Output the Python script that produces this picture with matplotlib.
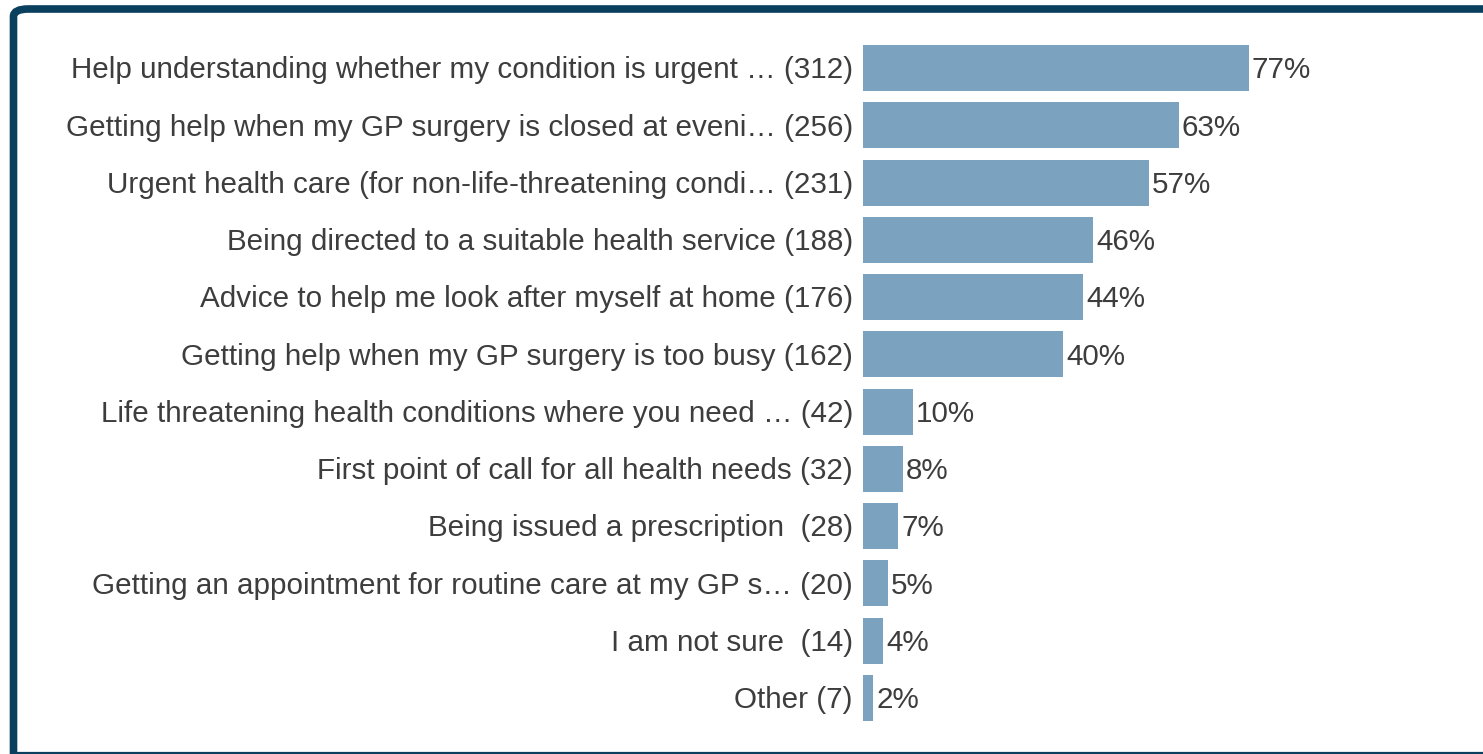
import matplotlib
matplotlib.use("Agg")
import matplotlib.pyplot as plt
from matplotlib.patches import FancyBboxPatch
from matplotlib.lines import Line2D

plt.rcParams['font.family'] = ['Liberation Sans', 'DejaVu Sans']

labels = [
    "Help understanding whether my condition is urgent \u2026 (312)",
    "Getting help when my GP surgery is closed at eveni\u2026 (256)",
    "Urgent health care (for non-life-threatening condi\u2026 (231)",
    "Being directed to a suitable health service (188)",
    "Advice to help me look after myself at home (176)",
    "Getting help when my GP surgery is too busy (162)",
    "Life threatening health conditions where you need \u2026 (42)",
    "First point of call for all health needs (32)",
    "Being issued a prescription  (28)",
    "Getting an appointment for routine care at my GP s\u2026 (20)",
    "I am not sure  (14)",
    "Other (7)",
]
percents = [77, 63, 57, 46, 44, 40, 10, 8, 7, 5, 4, 2]

W, H = 1483, 754
fig = plt.figure(figsize=(W / 100, H / 100), dpi=100)

# axes placed in pixel terms: bars start at x=863, rows from y~40 to ~727
ax_left, ax_top, ax_bottom = 863, 39.5, 726.5
ax = fig.add_axes([ax_left / W, 1 - ax_bottom / H, (W - ax_left) / W, (ax_bottom - ax_top) / H])

px_per_pct = 5.01
ax.set_xlim(0, (W - ax_left) / px_per_pct)
ax.set_ylim(len(labels) - 0.5, -0.5)

bar_color = "#7ba3bf"
text_color = "#3d3d3d"
fs = 21.3
ypos = list(range(len(labels)))
ax.barh(ypos, percents, height=0.8, color=bar_color)

for y, p, lab in zip(ypos, percents, labels):
    ty = y + 0.04
    ax.text(p + 0.6, ty, f"{p}%", va="center", ha="left", fontsize=fs, color=text_color)
    ax.text(-2, ty, lab, va="center", ha="right", fontsize=fs, color=text_color, clip_on=False)

ax.axis("off")

# dark rounded frame around the chart (right/bottom edges fall off the image)
x0, y0 = 13.5 / W, -12 / H
frame = FancyBboxPatch((x0, y0), 1.2, (1 - 9 / H) - y0,
                       boxstyle="round,pad=0,rounding_size=0.01",
                       transform=fig.transFigure, fill=False,
                       edgecolor="#0b3f5e", linewidth=5.5, clip_on=False)
fig.patches.append(frame)
fig.lines.append(Line2D([17 / W, 1], [2.5 / H, 2.5 / H], transform=fig.transFigure,
                        color="#9fb5c8", linewidth=1))
fig.lines.append(Line2D([17 / W, 1], [1 / H, 1 / H], transform=fig.transFigure,
                        color="#0b3f5e", linewidth=1.5))

fig.savefig("out.png", dpi=100, facecolor="white")
